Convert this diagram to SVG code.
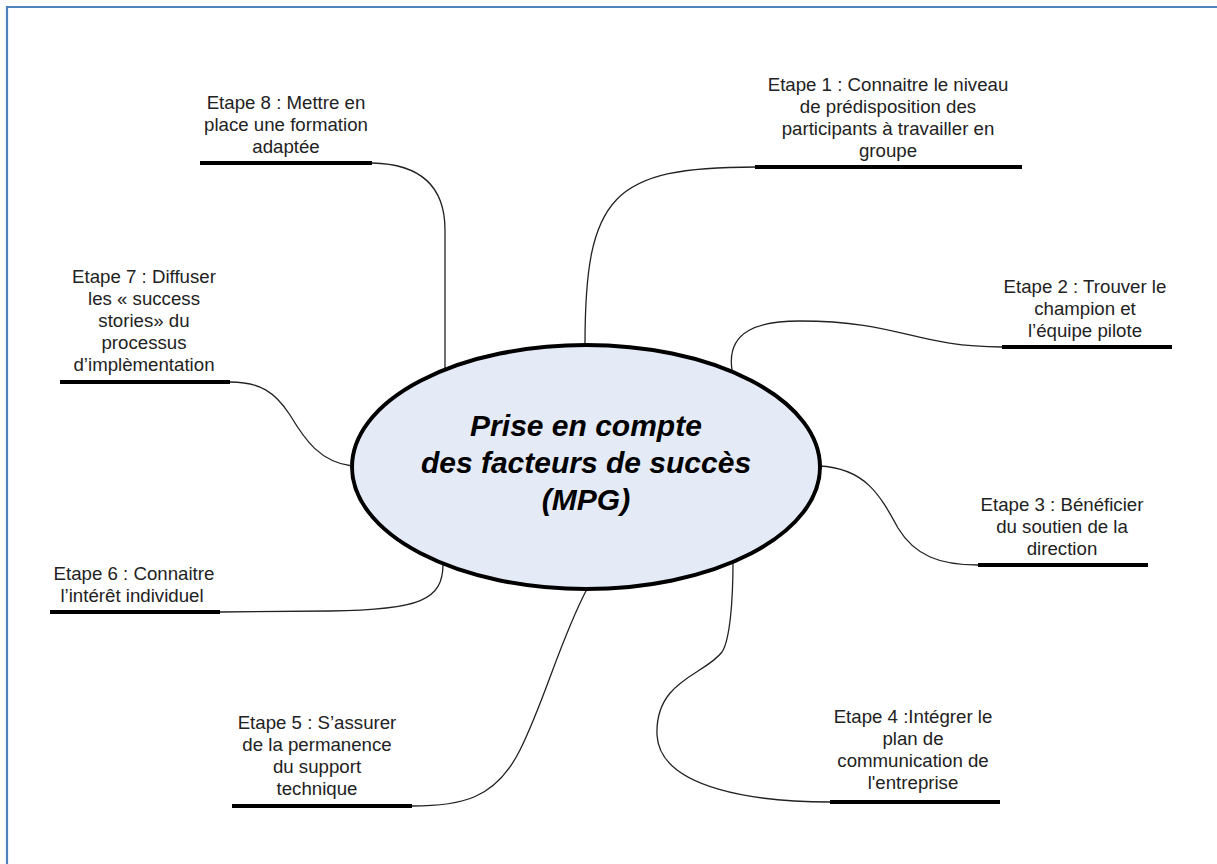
<svg xmlns="http://www.w3.org/2000/svg" width="1217" height="864" viewBox="0 0 1217 864">
  <style>
    .frame { fill: none; stroke: #4F81BD; stroke-width: 2.2; }
    .link { fill: none; stroke: #222; stroke-width: 1.3; }
    .bar { stroke: #000; stroke-width: 4; stroke-linecap: butt; }
    .lbl { font-family: "Liberation Sans", Arial, sans-serif; font-size: 18.67px; fill: #222; text-anchor: middle; }
    .core { fill: #E5EBF6; stroke: #000; stroke-width: 4; }
    .title { font-family: "Liberation Sans", Arial, sans-serif; font-size: 30px; font-weight: bold; font-style: italic; fill: #000; text-anchor: middle; }
  </style>

  <rect x="0" y="0" width="1217" height="864" fill="#fff"/>
  <!-- page frame -->
  <path class="frame" d="M7,864 L7,7 L1217,7"/>

  <!-- connectors from the central topic to each step -->
  <g id="connectors">
    <path class="link" d="M585,345 C585,195 612,167 756,167"/>
    <path class="link" d="M732,370 C726,330 760,321 800,321 C900,321 915,347 1002,347"/>
    <path class="link" d="M819,466 C865,468 880,495 898,528 C915,556 940,565 978,565"/>
    <path class="link" d="M733,562 C733,600 730,640 722,652 C705,675 655,680 657,735 C660,790 760,802 830,802"/>
    <path class="link" d="M587,589 C560,640 545,700 520,750 C495,800 460,806 412,806"/>
    <path class="link" d="M443,564 C443,600 420,610 330,611 L220,612"/>
    <path class="link" d="M352,466 C320,462 305,440 290,415 C275,392 260,382 230,382"/>
    <path class="link" d="M445,368 L445,230 C445,185 420,164 372,163"/>
  </g>

  <g id="center">
    <ellipse class="core" cx="586" cy="467" rx="234" ry="122"/>
    <text class="title" x="586" y="436">Prise en compte</text>
    <text class="title" x="586" y="473">des facteurs de succès</text>
    <text class="title" x="586" y="510">(MPG)</text>
  </g>

  <g id="step1">
    <text class="lbl" x="888" y="91">Etape 1 : Connaitre le niveau</text>
    <text class="lbl" x="888" y="113">de prédisposition des</text>
    <text class="lbl" x="888" y="135">participants à travailler en</text>
    <text class="lbl" x="888" y="157">groupe</text>
    <line class="bar" x1="755" y1="167" x2="1022" y2="167"/>
  </g>

  <g id="step2">
    <text class="lbl" x="1085" y="293">Etape 2 : Trouver le</text>
    <text class="lbl" x="1085" y="315">champion et</text>
    <text class="lbl" x="1085" y="337">l’équipe pilote</text>
    <line class="bar" x1="1002" y1="347" x2="1172" y2="347"/>
  </g>

  <g id="step3">
    <text class="lbl" x="1062" y="511">Etape 3 : Bénéficier</text>
    <text class="lbl" x="1062" y="533">du soutien de la</text>
    <text class="lbl" x="1062" y="555">direction</text>
    <line class="bar" x1="978" y1="565" x2="1148" y2="565"/>
  </g>

  <g id="step4">
    <text class="lbl" x="913" y="723">Etape 4 :Intégrer le</text>
    <text class="lbl" x="913" y="745">plan de</text>
    <text class="lbl" x="913" y="767">communication de</text>
    <text class="lbl" x="913" y="789">l'entreprise</text>
    <line class="bar" x1="830" y1="802" x2="1000" y2="802"/>
  </g>

  <g id="step5">
    <text class="lbl" x="317" y="729">Etape 5 : S’assurer</text>
    <text class="lbl" x="317" y="751">de la permanence</text>
    <text class="lbl" x="317" y="773">du support</text>
    <text class="lbl" x="317" y="795">technique</text>
    <line class="bar" x1="232" y1="806" x2="412" y2="806"/>
  </g>

  <g id="step6">
    <text class="lbl" x="134" y="580">Etape 6 : Connaitre</text>
    <text class="lbl" x="132" y="602">l’intérêt individuel</text>
    <line class="bar" x1="50" y1="612" x2="220" y2="612"/>
  </g>

  <g id="step7">
    <text class="lbl" x="144" y="283">Etape 7 : Diffuser</text>
    <text class="lbl" x="144" y="305">les « success</text>
    <text class="lbl" x="144" y="327">stories» du</text>
    <text class="lbl" x="144" y="349">processus</text>
    <text class="lbl" x="144" y="371">d’implèmentation</text>
    <line class="bar" x1="60" y1="382" x2="230" y2="382"/>
  </g>

  <g id="step8">
    <text class="lbl" x="286" y="109">Etape 8 : Mettre en</text>
    <text class="lbl" x="286" y="131">place une formation</text>
    <text class="lbl" x="286" y="153">adaptée</text>
    <line class="bar" x1="200" y1="163" x2="372" y2="163"/>
  </g>
</svg>
